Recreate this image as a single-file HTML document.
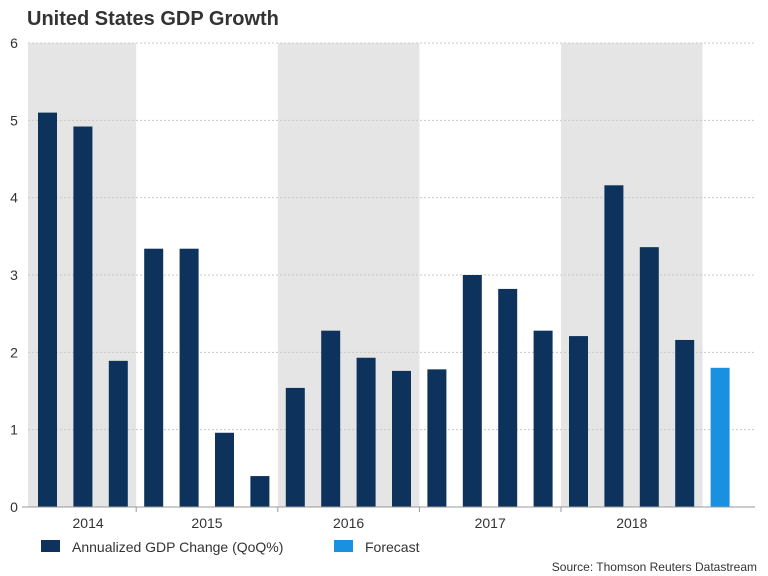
<!DOCTYPE html>
<html><head><meta charset="utf-8"><style>
body{margin:0;background:#fff;}
svg{display:block;font-family:"Liberation Sans",Arial,sans-serif;}
</style></head><body>
<svg id="chart" width="768" height="576" xmlns="http://www.w3.org/2000/svg">
<text x="27" y="25" font-size="20" font-weight="bold" fill="#333">United States GDP Growth</text>
<g id="bands"></g><g id="grid"></g><g id="bars"></g><g id="axis"></g>
<g>
<rect x="41" y="540" width="19" height="12" fill="#0d325c"/>
<text x="72" y="552" font-size="14" fill="#333">Annualized GDP Change (QoQ%)</text>
<rect x="334" y="540" width="19" height="12" fill="#1a91e0"/>
<text x="365" y="552" font-size="14" fill="#333">Forecast</text>
</g>
<text x="757" y="571" font-size="12" fill="#333" text-anchor="end">Source: Thomson Reuters Datastream</text>
</svg>
<script>
const values=[5.1,4.92,1.89,3.34,3.34,0.96,0.4,1.54,2.28,1.93,1.76,1.78,3.0,2.82,2.28,2.21,4.16,3.36,2.16,1.8];
const forecast=[false,false,false,false,false,false,false,false,false,false,false,false,false,false,false,false,false,false,false,true];
const years=["2014","2015","2016","2017","2018"];
const yearCounts=[3,4,4,4,4];
const yTicks=[0,1,2,3,4,5,6];
const NS="http://www.w3.org/2000/svg";
const plotLeft=28,plotRight=755,plotTop=43,plotBottom=507,x0=30,slot=35.4;
const yScale=v=>plotBottom-(v/6)*(plotBottom-plotTop);
const xs=i=>x0+i*slot;
function mk(t,a,p){const e=document.createElementNS(NS,t);for(const k in a)e.setAttribute(k,a[k]);p.appendChild(e);return e;}
const bandsG=document.getElementById('bands'),gridG=document.getElementById('grid'),barsG=document.getElementById('bars'),axisG=document.getElementById('axis');
let s=0;
years.forEach((yr,k)=>{
  const a=xs(s),b=xs(s+yearCounts[k]);
  if(k%2===0){const bx=k===0?plotLeft:a;const r=mk('rect',{x:bx,y:plotTop,width:b-bx,height:plotBottom-plotTop,fill:'#e5e5e5'},bandsG);
  
  }
  const cx=k===0?(plotLeft+b)/2+6:(a+b)/2;
  const t=mk('text',{x:cx,y:528,'font-size':14,fill:'#333','text-anchor':'middle'},axisG);t.textContent=yr;
  
  
  if(k>0){const tk=mk('line',{x1:a,x2:a,y1:plotBottom,y2:512,stroke:'#999'},axisG);
  
  }
  s+=yearCounts[k];
});
yTicks.forEach(v=>{
  if(v>0){const g=mk('line',{x1:plotLeft,x2:plotRight,y1:yScale(v),y2:yScale(v),stroke:'#c8c8c8','stroke-dasharray':'2,2'},gridG);
  
  }
  const t=mk('text',{x:14,y:yScale(v)+5,'font-size':14,fill:'#333','text-anchor':'middle'},axisG);t.textContent=v;
  
  
});
const ax=mk('line',{x1:22,x2:plotRight,y1:plotBottom,y2:plotBottom,stroke:'#999'},axisG);


values.forEach((v,i)=>{
  const r=mk('rect',{x:xs(i)+8,y:yScale(v),width:19,height:plotBottom-yScale(v),fill:forecast[i]?'#1a91e0':'#0d325c'},barsG);
  
  
});
</script>
</body></html>
